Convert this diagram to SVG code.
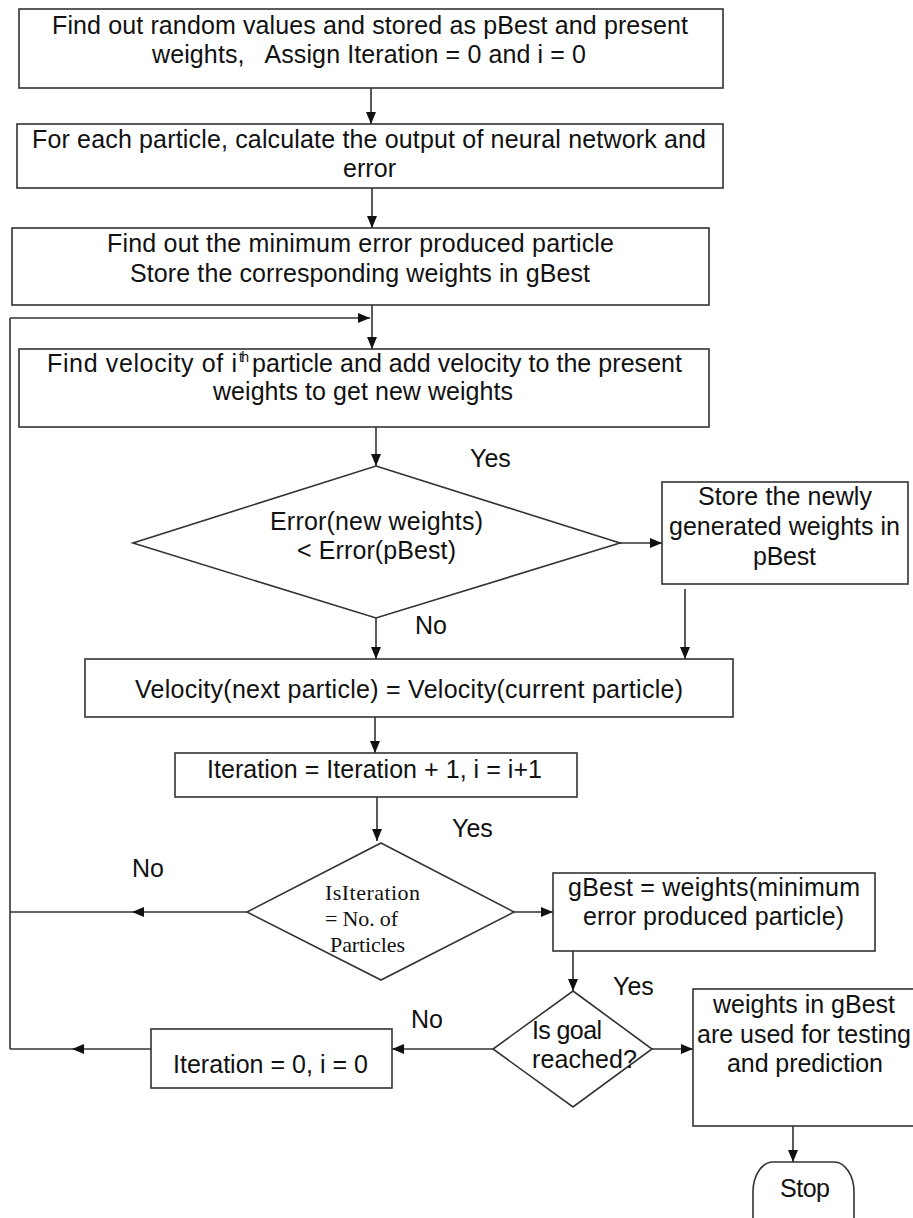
<svg xmlns="http://www.w3.org/2000/svg" width="913" height="1218" viewBox="0 0 913 1218">
<style>
.box{fill:#fff;stroke:#333;stroke-width:1.6}
.t{font-family:"Liberation Sans",Arial,sans-serif;font-size:25px;fill:#111}
.sup{font-family:"Liberation Sans",Arial,sans-serif;font-size:14px;fill:#111}
.s{font-family:"Liberation Serif","Times New Roman",serif;font-size:22px;fill:#111}
.c{fill:none;stroke:#333;stroke-width:1.6}
.a{marker-end:url(#ah)}
</style>
<defs>
<marker id="ah" markerUnits="userSpaceOnUse" markerWidth="12" markerHeight="10" refX="12" refY="5" orient="auto">
<path d="M0,0 L12,5 L0,10 z" fill="#111"/>
</marker>
</defs>
<rect width="913" height="1218" fill="#fff"/>
<g id="connectors">
<line class="c a" x1="371" y1="88" x2="371" y2="124"/>
<line class="c a" x1="372" y1="188" x2="372" y2="228"/>
<line class="c a" x1="372" y1="305" x2="372" y2="349"/>
<line class="c a" x1="10" y1="318" x2="370" y2="318"/>
<line class="c a" x1="376" y1="427" x2="376" y2="466"/>
<line class="c a" x1="620" y1="543" x2="662" y2="543"/>
<line class="c a" x1="685" y1="589" x2="685" y2="659"/>
<line class="c a" x1="376" y1="618" x2="376" y2="659"/>
<line class="c a" x1="375" y1="717" x2="375" y2="753"/>
<line class="c a" x1="377" y1="797" x2="377" y2="841"/>
<line class="c a" x1="247" y1="912" x2="132" y2="912"/>
<line class="c" x1="132" y1="912" x2="10" y2="912"/>
<line class="c a" x1="514" y1="912" x2="553" y2="912"/>
<line class="c a" x1="573" y1="951" x2="573" y2="991"/>
<line class="c a" x1="652" y1="1049" x2="693" y2="1049"/>
<line class="c a" x1="493" y1="1049" x2="392" y2="1049"/>
<line class="c a" x1="151" y1="1049" x2="72" y2="1049"/>
<line class="c" x1="72" y1="1049" x2="10" y2="1049"/>
<line class="c" x1="10" y1="1049" x2="10" y2="318"/>
<line class="c a" x1="793" y1="1126" x2="793" y2="1162"/>
</g>
<g id="init">
<rect class="box" x="19" y="9" width="704" height="79"/>
<text class="t" x="52" y="34" textLength="636">Find out random values and stored as pBest and present</text>
<text class="t" x="152" y="63" textLength="434" xml:space="preserve">weights,   Assign Iteration = 0 and i = 0</text>
</g>
<g id="calc">
<rect class="box" x="17" y="124" width="706" height="64"/>
<text class="t" x="32" y="148" textLength="674">For each particle, calculate the output of neural network and</text>
<text class="t" x="343" y="177" textLength="53">error</text>
</g>
<g id="mingbest">
<rect class="box" x="12" y="228" width="697" height="77"/>
<text class="t" x="107" y="252" textLength="507">Find out the minimum error produced particle</text>
<text class="t" x="130" y="282" textLength="460">Store the corresponding weights in gBest</text>
</g>
<g id="velocity">
<rect class="box" x="19" y="349" width="690" height="78"/>
<text class="t" x="47" y="372" textLength="190">Find velocity of i</text>
<text class="sup" x="239" y="362" textLength="10">th</text>
<text class="t" x="252" y="372" textLength="430">particle and add velocity to the present</text>
<text class="t" x="213" y="400" textLength="300">weights to get new weights</text>
</g>
<g id="cmp-error">
<polygon class="box" points="376,466 620,543 376,618 133,543"/>
<text class="t" x="270" y="530" textLength="213">Error(new weights)</text>
<text class="t" x="297" y="559" textLength="159">&lt; Error(pBest)</text>
</g>
<g id="store-pbest">
<rect class="box" x="662" y="482" width="246" height="102"/>
<text class="t" x="698" y="505" textLength="174">Store the newly</text>
<text class="t" x="669" y="535" textLength="231">generated weights in</text>
<text class="t" x="753" y="565" textLength="63">pBest</text>
</g>
<g id="next-velocity">
<rect class="box" x="85" y="659" width="648" height="58"/>
<text class="t" x="135" y="698" textLength="548">Velocity(next particle) = Velocity(current particle)</text>
</g>
<g id="increment">
<rect class="box" x="175" y="753" width="402" height="44"/>
<text class="t" x="207" y="778" textLength="335">Iteration = Iteration + 1, i = i+1</text>
</g>
<g id="cmp-iter">
<polygon class="box" points="381,843 514,912 381,980 247,912"/>
<text class="s" x="325" y="900" textLength="95">IsIteration</text>
<text class="s" x="325" y="926" textLength="73">= No. of</text>
<text class="s" x="330" y="952" textLength="75">Particles</text>
</g>
<g id="set-gbest">
<rect class="box" x="553" y="873" width="322" height="78"/>
<text class="t" x="568" y="896" textLength="292">gBest = weights(minimum</text>
<text class="t" x="583" y="925" textLength="261">error produced particle)</text>
</g>
<g id="goal">
<polygon class="box" points="573,991 652,1049 573,1107 493,1049"/>
<text class="t" x="532" y="1039" textLength="70">Is goal</text>
<text class="t" x="532" y="1068" textLength="105">reached?</text>
</g>
<g id="use-weights">
<rect class="box" x="693" y="989" width="225" height="137"/>
<text class="t" x="713" y="1013" textLength="182">weights in gBest</text>
<text class="t" x="697" y="1043" textLength="214">are used for testing</text>
<text class="t" x="727" y="1072" textLength="156">and prediction</text>
</g>
<g id="reset">
<rect class="box" x="151" y="1029" width="241" height="59"/>
<text class="t" x="173" y="1073" textLength="195">Iteration = 0, i = 0</text>
</g>
<g id="stop">
<rect class="box" x="753" y="1162" width="101" height="90" rx="20" ry="30"/>
<text class="t" x="780" y="1197" textLength="50">Stop</text>
</g>
<g id="labels">
<text class="t" x="470" y="467">Yes</text>
<text class="t" x="415" y="634">No</text>
<text class="t" x="452" y="837">Yes</text>
<text class="t" x="132" y="877">No</text>
<text class="t" x="613" y="995">Yes</text>
<text class="t" x="411" y="1028">No</text>
</g>
</svg>
